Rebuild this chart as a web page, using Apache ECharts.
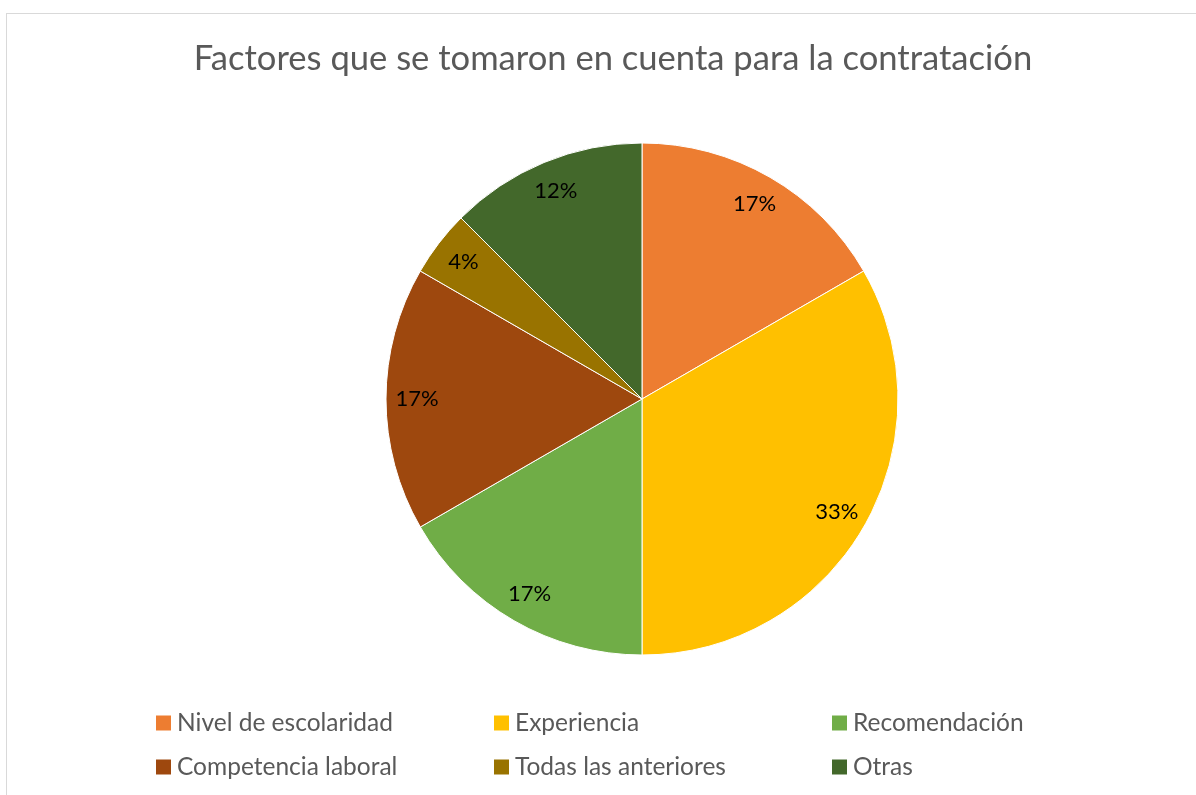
<!DOCTYPE html>
<html>
<head>
<meta charset="utf-8">
<script src="https://cdn.jsdelivr.net/npm/echarts@6/dist/echarts.min.js"></script>
<style>
  html, body { margin: 0; padding: 0; background: #fff; overflow: hidden; }
  #frame { position: absolute; left: 6px; top: 13px; width: 1220px; height: 820px; border: 1px solid #d9d9d9; box-sizing: border-box; }
  #pie { position: absolute; left: 0; top: 0; width: 1196px; height: 795px; }
</style>
</head>
<body>
<div id="frame"></div>
<div id="pie"></div>
<script>
  // factores de contratación (respuestas)
  const categories = ['Nivel de escolaridad', 'Experiencia', 'Recomendación', 'Competencia laboral', 'Todas las anteriores', 'Otras']
  const counts = [4, 8, 4, 4, 1, 3]
  const colors = ['#ED7D31', '#FFC000', '#70AD47', '#9E480E', '#997300', '#43682B']

  const myChart = echarts.init(document.getElementById('pie'))
  const pieData = categories.map((name, i) => ({ name: name, value: counts[i] }))
  const font = 'Lato, "Open Sans", sans-serif'

  const option = {
    color: colors,
    title: {
      text: 'Factores que se tomaron en cuenta para la contratación',
      left: 608,
      top: 36,
      textAlign: 'center',
      textStyle: { fontFamily: font, fontSize: 34.6, fontWeight: 'normal', color: '#595959' }
    },
    legend: {
      data: categories,
      left: 154,
      top: 708.5,
      width: 1020,
      padding: 0,
      itemWidth: 17,
      itemHeight: 17,
      itemGap: 15,
      icon: 'rect',
      textStyle: { fontFamily: font, fontSize: 24.5, color: '#595959', width: 300, lineHeight: 29 }
    },
    series: [
      {
        name: 'factores',
        type: 'pie',
        center: [642, 399],
        radius: 256,
        startAngle: 90,
        clockwise: true,
        silent: true,
        itemStyle: { borderColor: '#fff', borderWidth: 1 },
        label: { show: false },
        labelLine: { show: false },
        data: pieData
      },
      {
        name: 'etiquetas',
        type: 'pie',
        center: [642, 399],
        radius: [188, 256],
        startAngle: 90,
        clockwise: true,
        silent: true,
        percentPrecision: 0,
        itemStyle: { color: 'rgba(0,0,0,0)' },
        label: {
          show: true,
          position: 'inside',
          formatter: '{d}%',
          fontFamily: font,
          fontSize: 22,
          color: '#000'
        },
        labelLine: { show: false },
        data: pieData
      }
    ]
  }
  myChart.setOption(option)
</script>
</body>
</html>
